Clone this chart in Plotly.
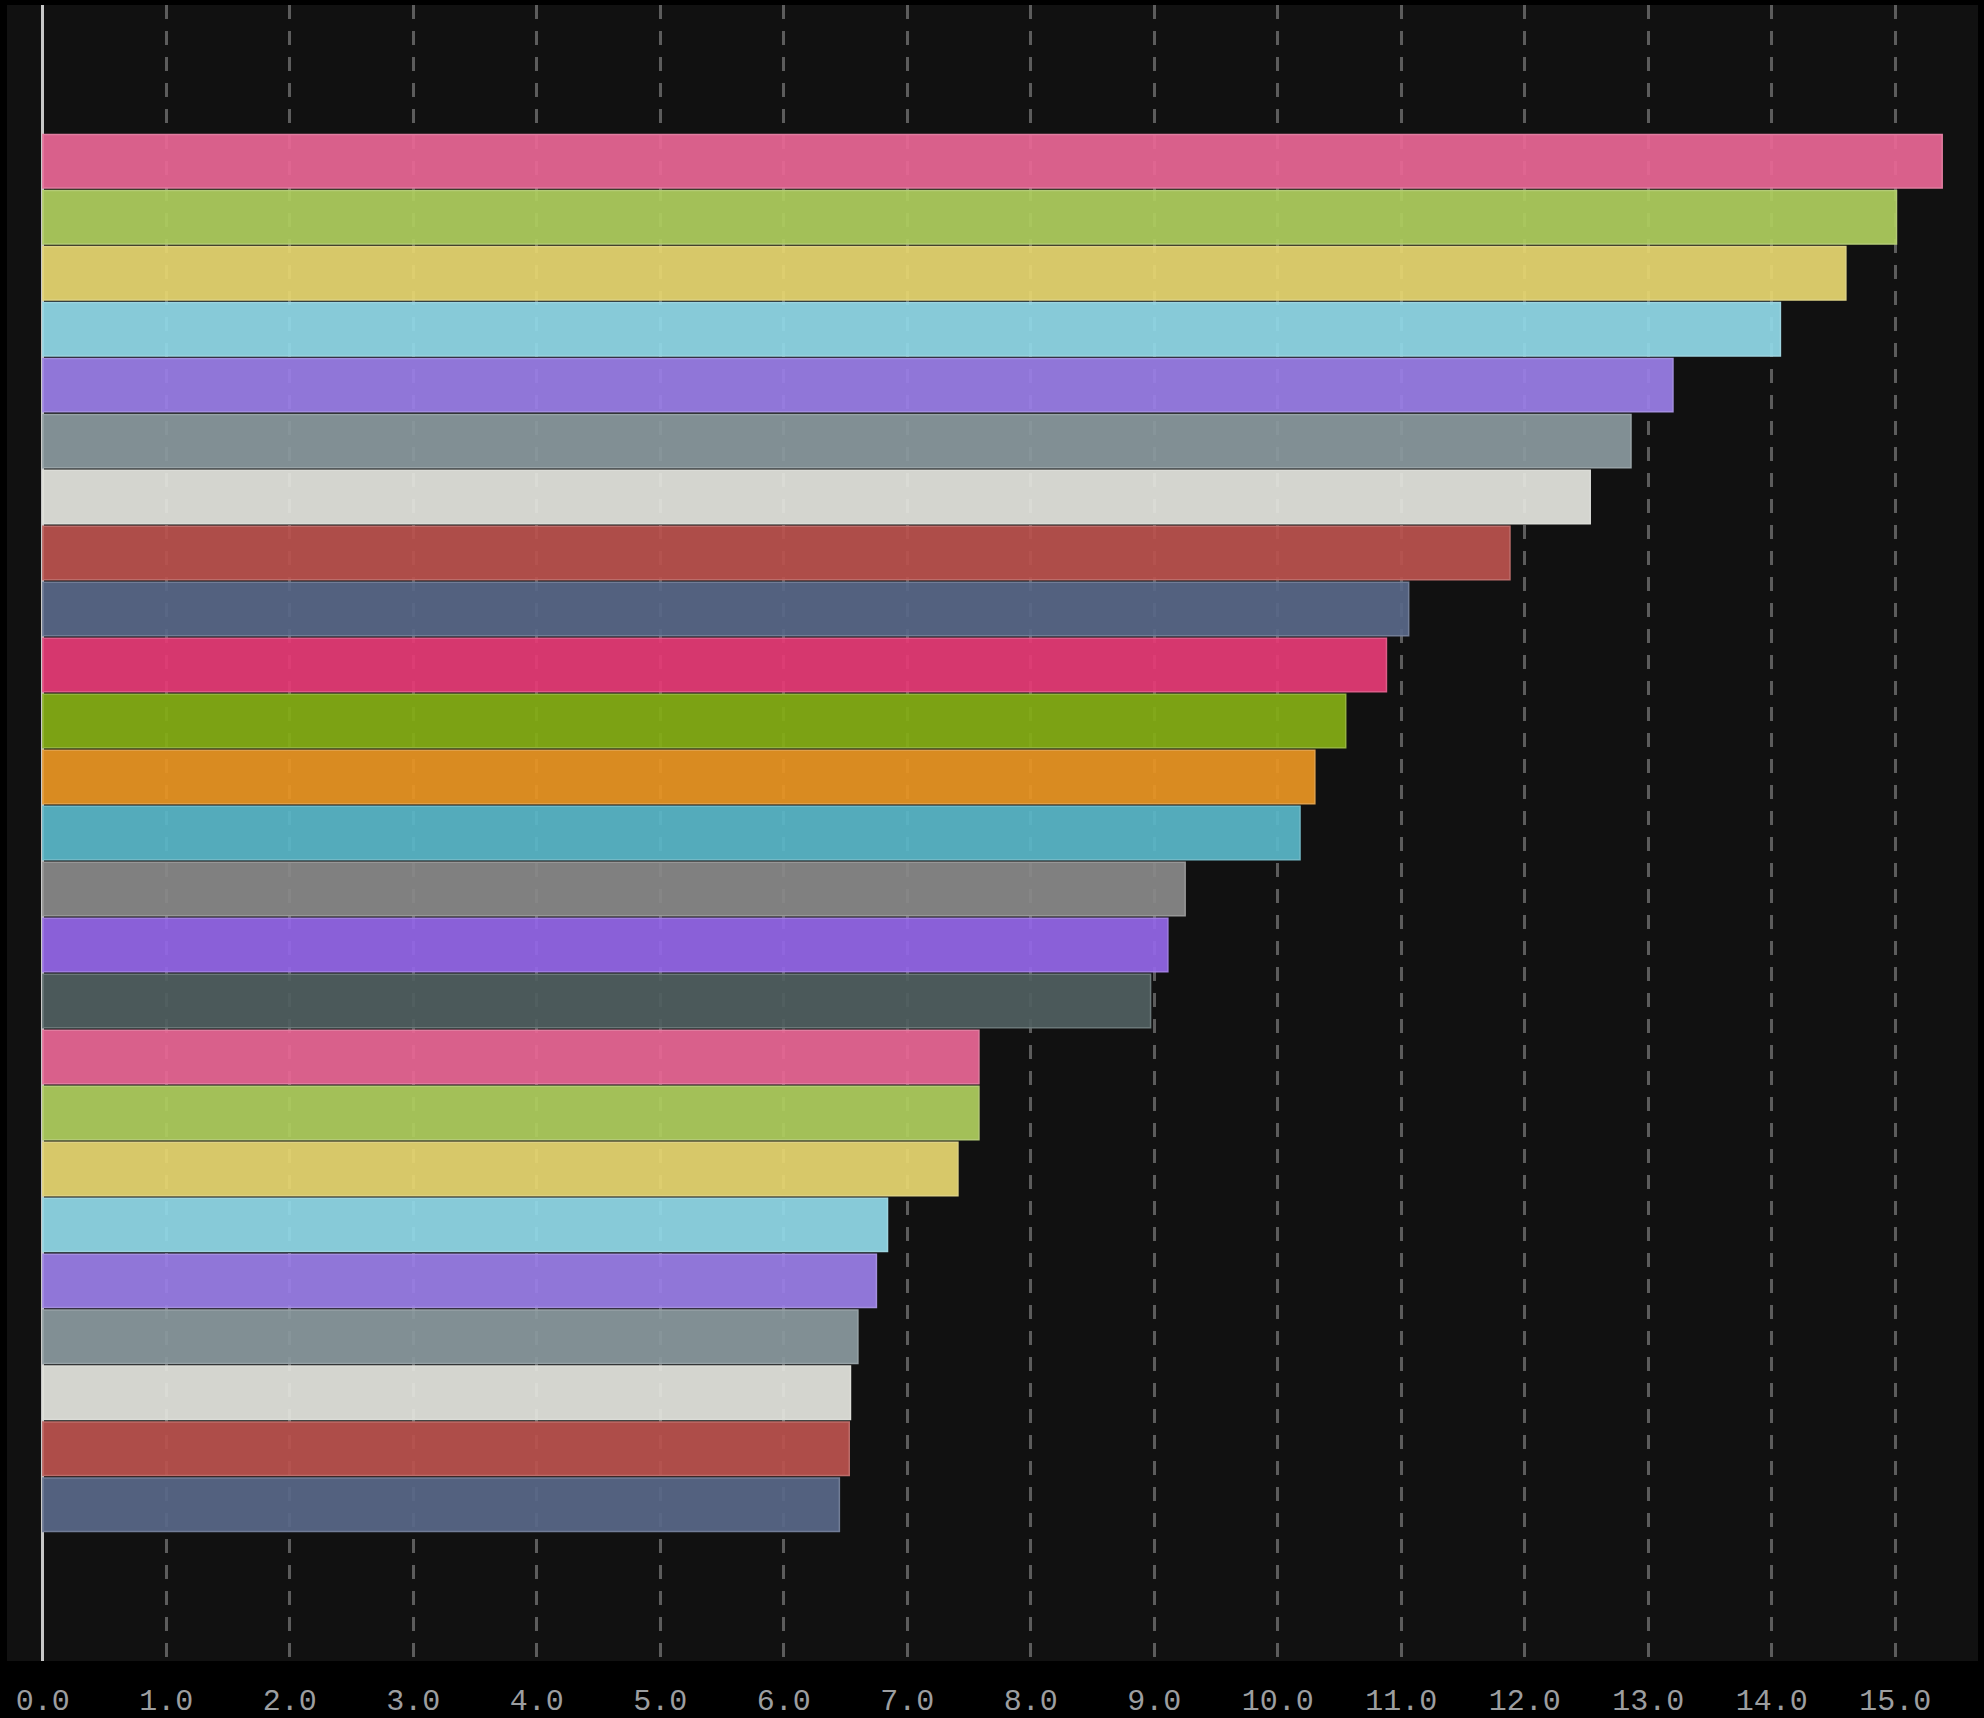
import plotly.graph_objects as go

categories = [f"Item {i}" for i in range(1, 26)]
values = [15.38, 15.01, 14.60, 14.07, 13.20, 12.86, 12.53, 11.88, 11.06, 10.88,
          10.55, 10.30, 10.18, 9.25, 9.11, 8.97, 7.58, 7.58, 7.41, 6.84,
          6.75, 6.60, 6.54, 6.53, 6.45]
tick_values = [float(v) for v in range(0, 16)]
tick_labels = [f"{v:.1f}" for v in tick_values]

palette = ["#d9608b", "#a3c058", "#d7c869", "#87cad8", "#9076d8", "#818f94",
           "#d4d5cf", "#ae4d49", "#53617f", "#d6386e", "#7ca215", "#d98b22",
           "#54abbb", "#808080", "#8a60d8", "#4b5a5b"]

ALPHA = 0.92
BG = 17


def src_color(hexc, alpha=ALPHA):
    r, g, b = (int(hexc[i:i + 2], 16) for i in (1, 3, 5))
    f = lambda c: max(0, min(255, round((c - (1 - alpha) * BG) / alpha)))
    return f"rgba({f(r)},{f(g)},{f(b)},{alpha})"


def lighter(hexc, k=0.18):
    r, g, b = (int(hexc[i:i + 2], 16) for i in (1, 3, 5))
    f = lambda c: round(c + (255 - c) * k)
    return f"rgb({f(r)},{f(g)},{f(b)})"


fills = [src_color(palette[i % len(palette)]) for i in range(len(values))]
lines = [lighter(palette[i % len(palette)]) for i in range(len(values))]

fig = go.Figure(go.Bar(
    x=values, y=categories, orientation="h",
    width=0.955,
    marker=dict(color=fills, line=dict(color=lines, width=1.5)),
    hoverinfo="x+y",
))

fig.update_layout(
    width=1984, height=1718,
    paper_bgcolor="#000000", plot_bgcolor="#111111",
    margin=dict(l=7, r=6, t=5, b=57, autoexpand=False),
    showlegend=False,
    bargap=0.04,
    xaxis=dict(
        range=[-0.29, 15.67],
        automargin=False,
        tickvals=tick_values, ticktext=tick_labels,
        showgrid=True, gridcolor="#5c5c5c", gridwidth=2.5, griddash="14px,12px",
        zeroline=True, zerolinecolor="#c8c8c8", zerolinewidth=3,
        showline=False, ticks="",
        tickfont=dict(family="Liberation Mono, monospace", size=30, color="#9c9ea0"),
        ticklabelstandoff=18,
    ),
    yaxis=dict(
        type="category",
        automargin=False,
        range=[24 + 2.79, -2.79],
        showticklabels=False, showgrid=False, zeroline=False, ticks="",
    ),
)

fig.write_html(
    "out.html",
    config={"displayModeBar": False},
    post_script="document.body.style.margin='0';document.body.style.background='#000';",
)
